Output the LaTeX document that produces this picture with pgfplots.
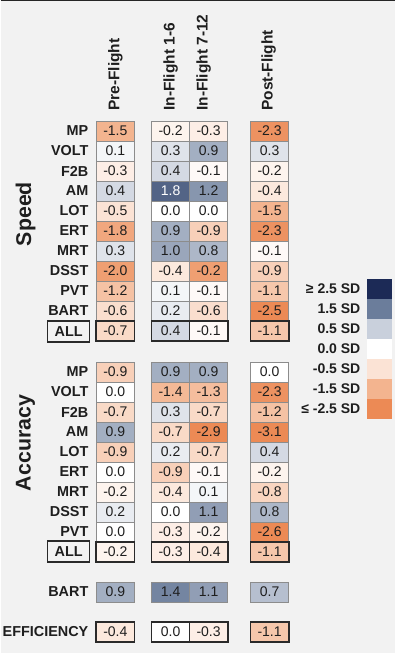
\documentclass[border=0pt]{standalone}
\usepackage{pgfplots}
\pgfplotsset{compat=1.18}
\usepackage{pgfplotstable}
\usepackage{fontspec}
\setmainfont{Liberation Sans}
\definecolor{bg}{HTML}{F2F2F2}
\definecolor{cellb}{HTML}{8C8C8C}
\definecolor{darkb}{HTML}{2A2A2A}
\definecolor{txt}{HTML}{1E1E1E}

\pgfdeclareplotmark{cell}{\pgfpathrectangle{\pgfqpoint{-14.44pt}{-7.5pt}}{\pgfqpoint{28.88pt}{15pt}}\pgfusepathqfillstroke}
\pgfdeclareplotmark{legcell}{\pgfpathrectangle{\pgfqpoint{-9.375pt}{-7.5pt}}{\pgfqpoint{18.75pt}{15pt}}\pgfusepathqfill}

\tikzset{
  rowlab/.style={anchor=east, inner sep=0pt, font=\fontsize{10.8}{12}\selectfont\bfseries, text=txt},
  collab/.style={anchor=west, rotate=90, inner sep=0pt, font=\fontsize{11.6}{13}\selectfont\bfseries, text=txt},
  leglab/.style={anchor=east, inner sep=0pt, font=\fontsize{10.5}{12}\selectfont\bfseries, text=txt},
  grplab/.style={rotate=90, inner sep=0pt, font=\fontsize{16}{18}\selectfont\bfseries, text=txt},
}

% x: column centre, y: row centre (pixels), v: printed value, m: colour value
\pgfplotstableread{
x y v m
114.75 131 -1.5 -1.5
170 131 -0.2 -0.2
208 131 -0.3 -0.3
269 131 -2.3 -2.3
114.75 151 0.1 0.1
170 151 0.3 0.3
208 151 0.9 0.9
269 151 0.3 0.3
114.75 171 -0.3 -0.3
170 171 0.4 0.4
208 171 -0.1 -0.1
269 171 -0.2 -0.2
114.75 191 0.4 0.4
208 191 1.2 1.2
269 191 -0.4 -0.4
114.75 211 -0.5 -0.5
170 211 0.0 0.0
208 211 0.0 0.0
269 211 -1.5 -1.5
114.75 231 -1.8 -1.8
170 231 0.9 0.9
208 231 -0.9 -0.9
269 231 -2.3 -2.3
114.75 251 0.3 0.3
170 251 1.0 1.0
208 251 0.8 0.8
269 251 -0.1 -0.1
114.75 271 -2.0 -2.0
170 271 -0.4 -0.4
208 271 -0.2 -2.0
269 271 -0.9 -0.9
114.75 291 -1.2 -1.2
170 291 0.1 0.1
208 291 -0.1 -0.1
269 291 -1.1 -1.1
114.75 311 -0.6 -0.6
170 311 0.2 0.2
208 311 -0.6 -0.6
269 311 -2.5 -2.5
}\speed

\pgfplotstableread{
x y v m
114.75 372 -0.9 -0.9
170 372 0.9 0.9
208 372 0.9 0.9
269 372 0.0 0.0
114.75 392 0.0 0.0
170 392 -1.4 -1.4
208 392 -1.3 -1.3
269 392 -2.3 -2.3
114.75 412 -0.7 -0.7
170 412 0.3 0.3
208 412 -0.7 -0.7
269 412 -1.2 -1.2
114.75 432 0.9 0.9
170 432 -0.7 -0.7
208 432 -2.9 -2.9
269 432 -3.1 -3.1
114.75 452 -0.9 -0.9
170 452 0.2 0.2
208 452 -0.7 -0.7
269 452 0.4 0.4
114.75 472 0.0 0.0
170 472 -0.9 -0.9
208 472 -0.1 -0.1
269 472 -0.2 -0.2
114.75 492 -0.2 -0.2
170 492 -0.4 -0.4
208 492 0.1 0.1
269 492 -0.8 -0.8
114.75 512 0.2 0.2
170 512 0.0 0.0
208 512 1.1 1.1
269 512 0.8 0.8
114.75 532 0.0 0.0
170 532 -0.3 -0.3
208 532 -0.2 -0.2
269 532 -2.6 -2.6
114.75 592 0.9 0.9
170 592 1.4 1.4
208 592 1.1 1.1
269 592 0.7 0.7
}\accuracy

\pgfplotstableread{
x y v m
114.75 331 -0.7 -0.7
170 331 0.4 0.4
208 331 -0.1 -0.1
269 331 -1.1 -1.1
114.75 552 -0.2 -0.2
170 552 -0.3 -0.3
208 552 -0.4 -0.4
269 552 -1.1 -1.1
114.75 632 -0.4 -0.4
170 632 0.0 0.0
208 632 -0.3 -0.3
269 632 -1.1 -1.1
}\totals

\pgfplotstableread{
x y v m
170 191 1.8 1.8
}\darkcells

\begin{document}
\begin{tikzpicture}
\begin{axis}[
  width=295.5pt, height=489.75pt, scale only axis,
  xmin=0, xmax=394, ymin=0, ymax=653, y dir=reverse,
  axis line style={draw=none}, ticks=none,
  axis background/.style={fill=bg},
  clip=false,
  colormap={sd}{rgb255(0cm)=(236,138,85) rgb255(1cm)=(243,180,143) rgb255(2cm)=(251,227,213) rgb255(2.5cm)=(255,255,255) rgb255(3cm)=(201,208,220) rgb255(4cm)=(107,125,155) rgb255(5cm)=(28,42,86)},
  point meta min=-2.5, point meta max=2.5,
  cellplot/.style={scatter, only marks, mark=cell, point meta=explicit,
    scatter/use mapped color={draw=cellb, fill=mapped color, line width=0.6pt}},
  totplot/.style={scatter, only marks, mark=cell, point meta=explicit,
    scatter/use mapped color={draw=darkb, fill=mapped color, line width=1.2pt}},
  labplot/.style={only marks, mark=none, point meta=explicit symbolic,
    nodes near coords,
    every node near coord/.style={anchor=center, inner sep=0pt,
      font=\fontsize{10.5}{12}\selectfont, text=txt}},
]
% coloured cells
\addplot[cellplot] table[x=x, y=y, meta=m] {\speed};
\addplot[cellplot] table[x=x, y=y, meta=m] {\accuracy};
\addplot[cellplot] table[x=x, y=y, meta=m] {\darkcells};
\addplot[totplot] table[x=x, y=y, meta=m] {\totals};
% printed values
\addplot[labplot] table[x=x, y=y, meta=v] {\speed};
\addplot[labplot] table[x=x, y=y, meta=v] {\accuracy};
\addplot[labplot] table[x=x, y=y, meta=v] {\totals};
\addplot[labplot, every node near coord/.append style={text=white}] table[x=x, y=y, meta=v] {\darkcells};

% legend swatches
\addplot[scatter, only marks, mark=legcell, point meta=explicit,
  scatter/use mapped color={draw=none, fill=mapped color}]
  coordinates {(378.5,289) [2.5] (378.5,309) [1.5] (378.5,329) [0.5] (378.5,349) [0.0] (378.5,369) [-0.5] (378.5,389) [-1.5] (378.5,409) [-2.5]};

% top edge line
\draw[line width=0.9pt, black!85] (axis cs:0,0.6) -- (axis cs:394,0.6);

% column headers
\node[collab] at (axis cs:114.75,111) {Pre-Flight};
\node[collab] at (axis cs:170,111) {In-Flight 1-6};
\node[collab] at (axis cs:203,111) {In-Flight 7-12};
\node[collab] at (axis cs:268,111) {Post-Flight};

% group labels
\node[grplab] at (axis cs:25,214) {Speed};
\node[grplab] at (axis cs:25,443) {Accuracy};

% speed row labels
\node[rowlab] at (axis cs:88,131) {MP};
\node[rowlab] at (axis cs:88,151) {VOLT};
\node[rowlab] at (axis cs:88,171) {F2B};
\node[rowlab] at (axis cs:88,191) {AM};
\node[rowlab] at (axis cs:88,211) {LOT};
\node[rowlab] at (axis cs:88,231) {ERT};
\node[rowlab] at (axis cs:88,251) {MRT};
\node[rowlab] at (axis cs:88,271) {DSST};
\node[rowlab] at (axis cs:88,291) {PVT};
\node[rowlab] at (axis cs:88,311) {BART};
\draw[darkb, line width=1.2pt] (axis cs:47,321) rectangle (axis cs:89,342);
\node[inner sep=0pt, font=\fontsize{10.8}{12}\selectfont\bfseries, text=txt] at (axis cs:68,331.5) {ALL};

% accuracy row labels
\node[rowlab] at (axis cs:88,372) {MP};
\node[rowlab] at (axis cs:88,392) {VOLT};
\node[rowlab] at (axis cs:88,412) {F2B};
\node[rowlab] at (axis cs:88,432) {AM};
\node[rowlab] at (axis cs:88,452) {LOT};
\node[rowlab] at (axis cs:88,472) {ERT};
\node[rowlab] at (axis cs:88,492) {MRT};
\node[rowlab] at (axis cs:88,512) {DSST};
\node[rowlab] at (axis cs:88,532) {PVT};
\draw[darkb, line width=1.2pt] (axis cs:47,541) rectangle (axis cs:89,562);
\node[inner sep=0pt, font=\fontsize{10.8}{12}\selectfont\bfseries, text=txt] at (axis cs:68,551.5) {ALL};

\node[rowlab] at (axis cs:88,592) {BART};
\node[rowlab] at (axis cs:88,632) {EFFICIENCY};

% legend labels
\node[leglab] at (axis cs:360,289) {≥ 2.5 SD};
\node[leglab] at (axis cs:360,309) {1.5 SD};
\node[leglab] at (axis cs:360,329) {0.5 SD};
\node[leglab] at (axis cs:360,349) {0.0 SD};
\node[leglab] at (axis cs:360,369) {-0.5 SD};
\node[leglab] at (axis cs:360,389) {-1.5 SD};
\node[leglab] at (axis cs:360,409) {≤ -2.5 SD};
\end{axis}
\end{tikzpicture}
\end{document}
